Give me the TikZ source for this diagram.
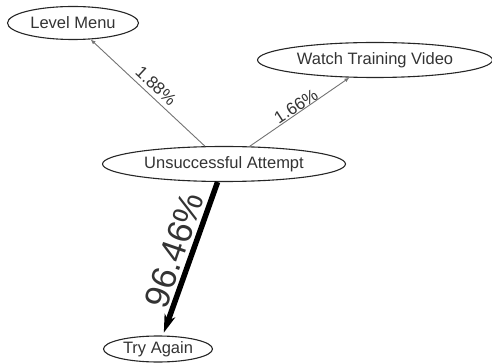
\documentclass[tikz,border=0pt]{standalone}
\usepackage{fontspec}
\setmainfont{Liberation Sans}
\usetikzlibrary{shapes.geometric,arrows.meta}
\begin{document}
\begin{tikzpicture}[x=1pt,y=-1pt,
  state/.style={ellipse,draw=black!85,line width=1.1pt,inner sep=0pt,
    text=black!80,font=\fontsize{16.5}{18}\selectfont},
  thinedge/.style={draw=black!55,line width=0.9pt,
    -{Latex[length=5pt,width=4pt]}},
  thickedge/.style={draw=black,line width=5.5pt,
    -{Stealth[length=18pt,width=11pt,inset=5pt]}},
  pct/.style={text=black!80,inner sep=0pt,font=\fontsize{17}{19}\selectfont}]
\useasboundingbox (0,0) rectangle (492,363);
\node[state,minimum width=131pt,minimum height=33pt] (lm) at (73,23) {Level Menu};
\node[state,minimum width=235pt,minimum height=35pt] (wtv) at (375,60) {Watch Training Video};
\node[state,minimum width=243pt,minimum height=35pt] (ua) at (224,164) {Unsuccessful Attempt};
\node[state,minimum width=109pt,minimum height=26pt] (ta) at (158,349) {Try Again};
\draw[thinedge] (ua) -- (lm);
\draw[thinedge] (ua) -- (wtv);
\draw[thickedge,shorten >=3pt] (ua) -- (ta);
\node[pct,rotate=-43] (p1) at (156,86) {1.88\%};
\node[pct,rotate=33] (p2) at (296,106) {1.66\%};
\node[pct,rotate=71,font=\fontsize{35}{38}\selectfont] (p3) at (174,250) {96.46\%};
\end{tikzpicture}
\end{document}
